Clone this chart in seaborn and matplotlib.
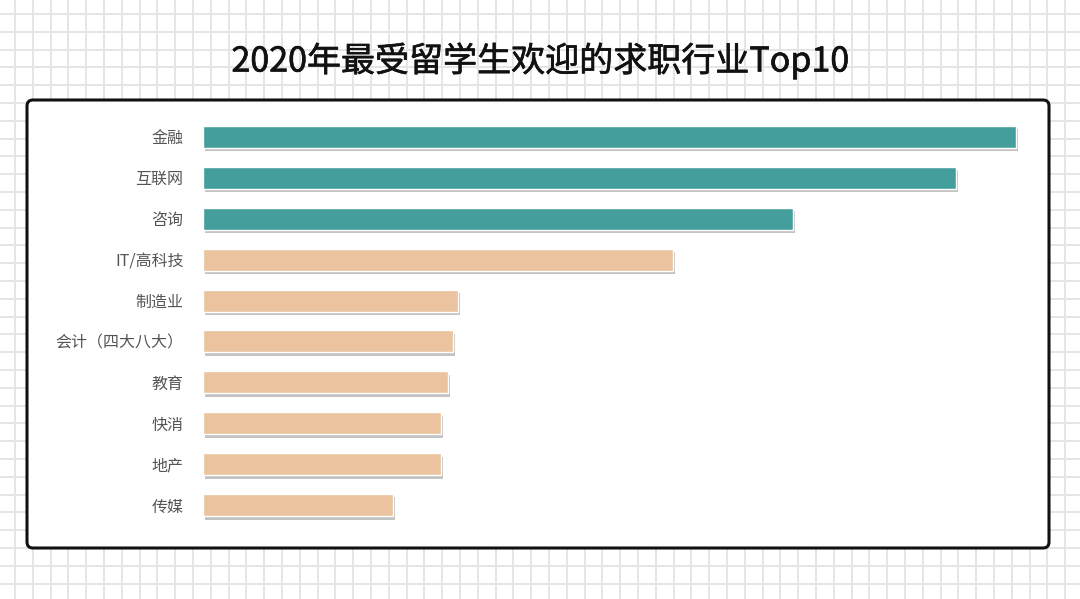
import matplotlib
matplotlib.use('Agg')
import matplotlib.pyplot as plt
import matplotlib.patheffects as pe
from matplotlib.patches import FancyBboxPatch
import seaborn as sns
import pandas as pd

industries = ['金融', '互联网', '咨询', 'IT/高科技', '制造业', '会计（四大八大）',
              '教育', '快消', '地产', '传媒']
scores = [32.5, 30.1, 23.6, 18.8, 10.2, 10.0, 9.8, 9.5, 9.5, 7.6]
bar_colors = ['#449e9c'] * 3 + ['#ebc39f'] * 7

sns.set_theme(style='white')
plt.rcParams['font.family'] = ['Noto Sans CJK SC', 'DejaVu Sans']

W, H = 1080, 599
fig = plt.figure(figsize=(W / 100, H / 100), dpi=100)
fig.patch.set_facecolor('white')

# graph paper background
bg = fig.add_axes([0, 0, 1, 1])
bg.set_xlim(0, W)
bg.set_ylim(H, 0)
bg.axis('off')
step = 17.8
x = 15.0
while x < W:
    bg.axvline(x, color='#e5e5e5', lw=1.4, zorder=0)
    x += step
y = 14.0
while y < H:
    bg.axhline(y, color='#e5e5e5', lw=1.4, zorder=0)
    y += step

# white card with black border
card = FancyBboxPatch((27, 100), 1022, 448, boxstyle='round,pad=0,rounding_size=6',
                      facecolor='white', edgecolor='#111111', lw=2.2, zorder=2)
bg.add_patch(card)

bg.text(540, 61, '2020年最受留学生欢迎的求职行业Top10', ha='center', va='center',
        fontsize=24.5, color='#111111', zorder=3,
        path_effects=[pe.withStroke(linewidth=0.45, foreground='#111111')])

# bar chart
left, right = 203 / W, 1016 / W
top, bottom = 116.5 / H, 525.5 / H
ax = fig.add_axes([left, 1 - bottom, right - left, bottom - top])
ax.patch.set_alpha(0)
df = pd.DataFrame({'industry': industries, 'score': scores})
sns.barplot(data=df, x='score', y='industry', hue='industry', palette=bar_colors,
            saturation=1, orient='h', width=0.54, legend=False, ax=ax)
for p in ax.patches:
    p.set_path_effects([pe.SimplePatchShadow(offset=(1.5, -2.5), shadow_rgbFace='#7a7a7a', alpha=0.45),
                        pe.Normal()])
    p.set_clip_on(False)
ax.set_xlim(0, max(scores))
ax.set_ylim(9.5, -0.5)
ax.set_xlabel('')
ax.set_ylabel('')
ax.set_xticks([])
ax.tick_params(axis='y', length=0, pad=14, labelsize=11.5, labelcolor='#555555')
for s in ax.spines.values():
    s.set_visible(False)

fig.savefig('out.png', dpi=100)
